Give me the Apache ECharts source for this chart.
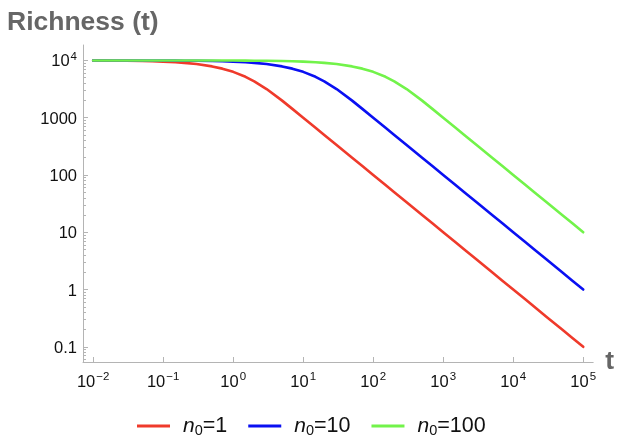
<!DOCTYPE html>
<html>
<head>
<meta charset="utf-8">
<script src="https://cdn.jsdelivr.net/npm/echarts@6/dist/echarts.min.js"></script>
<style>
html,body{margin:0;padding:0;background:#fff;}
#chart{width:617px;height:438px;}
</style>
</head>
<body>
<div id="chart"></div>
<script>
// time values (t)
const times = [
  0.01, 0.015, 0.02, 0.03, 0.05, 0.07,
  0.1, 0.15, 0.2, 0.3, 0.5, 0.7,
  1, 1.5, 2, 3, 5, 7,
  10, 15, 20, 30, 50, 70,
  100, 150, 200, 300, 500, 700,
  1000, 1500, 2000, 3000, 5000, 7000,
  1e4, 1.5e4, 2e4, 3e4, 5e4, 7e4,
  1e5
];
// Richness(t), n0 = 1
const richN1 = [
  9950, 9925, 9901, 9851, 9754, 9658,
  9516, 9286, 9063, 8639, 7869, 7192,
  6321, 5179, 4323, 3167, 1987, 1427,
  1000, 667, 500, 333, 200, 143,
  100, 66.7, 50, 33.3, 20, 14.3,
  10, 6.67, 5, 3.33, 2, 1.43,
  1, 0.667, 0.5, 0.333, 0.2, 0.143,
  0.1
];
// Richness(t), n0 = 10
const richN10 = [
  9995, 9993, 9990, 9985, 9975, 9965,
  9950, 9925, 9901, 9851, 9754, 9658,
  9516, 9286, 9063, 8639, 7869, 7192,
  6321, 5179, 4323, 3167, 1987, 1427,
  1000, 667, 500, 333, 200, 143,
  100, 66.7, 50, 33.3, 20, 14.3,
  10, 6.67, 5, 3.33, 2, 1.43,
  1
];
// Richness(t), n0 = 100
const richN100 = [
  10000, 9999, 9999, 9998, 9998, 9997,
  9995, 9993, 9990, 9985, 9975, 9965,
  9950, 9925, 9901, 9851, 9754, 9658,
  9516, 9286, 9063, 8639, 7869, 7192,
  6321, 5179, 4323, 3167, 1987, 1427,
  1000, 667, 500, 333, 200, 143,
  100, 66.7, 50, 33.3, 20, 14.3,
  10
];
const seriesNames = ['n0=1', 'n0=10', 'n0=100'];
const legendValues = ['1', '10', '100'];
// tick exponents (decades)
const xTickExps = [-2, -1, 0, 1, 2, 3, 4, 5];
const yTickExps = [-1, 0, 1, 2, 3, 4];
const yTickLabels = ['0.1', '1', '10', '100', '1000', '10^4'];
const xRange = [0.00716, 138700];
const yRange = [0.0543, 18600];

const colors = ['#ef3a2b', '#0a10f2', '#72f34a'];
const FONT = 'Liberation Sans, Arial, sans-serif';

const lg = Math.log10;
function toPairs(ts, vs) { return ts.map((t, i) => [lg(t), lg(vs[i])]); }

// minor tick positions for y (2..9 within each decade)
const yMinor = [];
for (let d = -2; d <= 4; d++) {
  for (let k = 2; k <= 9; k++) {
    const v = lg(k) + d;
    if (v > lg(yRange[0]) && v < lg(yRange[1])) yMinor.push(v);
  }
}

function supLabel(e) {
  const s = e < 0 ? '\u2212' + Math.abs(e) : String(e);
  return '{b|10}{s|' + s + '}';
}
const supRich = {
  b: { fontSize: 16.5, fontFamily: FONT, color: '#111', verticalAlign: 'bottom', lineHeight: 20 },
  s: { fontSize: 11.5, fontFamily: FONT, color: '#111', verticalAlign: 'top', lineHeight: 20, padding: [0, 0, 6, 1] }
};

const axisGray = '#b4b4b4';

function lineSeries(i, vals) {
  return {
    name: seriesNames[i], type: 'line', data: toPairs(times, vals),
    showSymbol: false, smooth: false,
    lineStyle: { width: 2.6, color: colors[i], join: 'round', cap: 'round' }, itemStyle: { color: colors[i] }
  };
}

const chart = echarts.init(document.getElementById('chart'), null, { renderer: 'canvas' });
chart.setOption({
  animation: false,
  backgroundColor: '#fff',
  title: {
    text: 'Richness (t)', left: 2, top: 4,
    textStyle: { fontSize: 26.5, fontWeight: 'bold', color: '#666', fontFamily: FONT }
  },
  grid: { left: 83, right: 22, top: 45, bottom: 76 },
  legend: {
    data: seriesNames,
    left: 132, top: 410,
    icon: 'rect', itemWidth: 33, itemHeight: 3, itemGap: 21,
    formatter: function (name) {
      const v = legendValues[seriesNames.indexOf(name)];
      return '{i|n}{s|0}{r|=' + v + '}';
    },
    textStyle: {
      fontFamily: FONT, color: '#111',
      rich: {
        i: { fontSize: 21, fontStyle: 'italic', fontFamily: FONT, color: '#111', padding: [0, 0, 0, 8] },
        s: { fontSize: 14.5, fontFamily: FONT, color: '#111', padding: [10, 0, 0, 0] },
        r: { fontSize: 21.5, fontFamily: FONT, color: '#111' }
      }
    }
  },
  xAxis: {
    type: 'value', min: lg(xRange[0]), max: lg(xRange[1]),
    name: 't', nameLocation: 'end', nameGap: 12,
    nameTextStyle: { fontSize: 26.5, fontWeight: 'bold', color: '#666', fontFamily: FONT, verticalAlign: 'middle', padding: [2, 0, 0, 0] },
    axisLine: { onZero: false, lineStyle: { color: axisGray, width: 1 } },
    axisTick: { inside: true, length: 5, customValues: xTickExps, lineStyle: { color: axisGray } },
    axisLabel: { customValues: xTickExps, margin: 9, formatter: v => supLabel(Math.round(v)), rich: supRich },
    splitLine: { show: false }
  },
  yAxis: [{
    type: 'value', min: lg(yRange[0]), max: lg(yRange[1]),
    axisLine: { show: true, onZero: false, lineStyle: { color: axisGray, width: 1 } },
    axisTick: { show: true, inside: true, length: 5, customValues: yTickExps, lineStyle: { color: axisGray } },
    axisLabel: {
      customValues: yTickExps, margin: 6,
      formatter: function (v) {
        const lab = yTickLabels[yTickExps.indexOf(Math.round(v))];
        if (lab.indexOf('^') >= 0) return supLabel(4);
        return '{b|' + lab + '}';
      },
      rich: supRich
    },
    splitLine: { show: false }
  }, {
    type: 'value', min: lg(yRange[0]), max: lg(yRange[1]), position: 'left', offset: 0,
    axisLine: { show: false, onZero: false },
    axisTick: { show: true, inside: true, length: 3, customValues: yMinor, lineStyle: { color: axisGray } },
    axisLabel: { show: false },
    splitLine: { show: false }
  }],
  series: [
    lineSeries(0, richN1),
    lineSeries(1, richN10),
    lineSeries(2, richN100)
  ]
});
</script>
</body>
</html>
